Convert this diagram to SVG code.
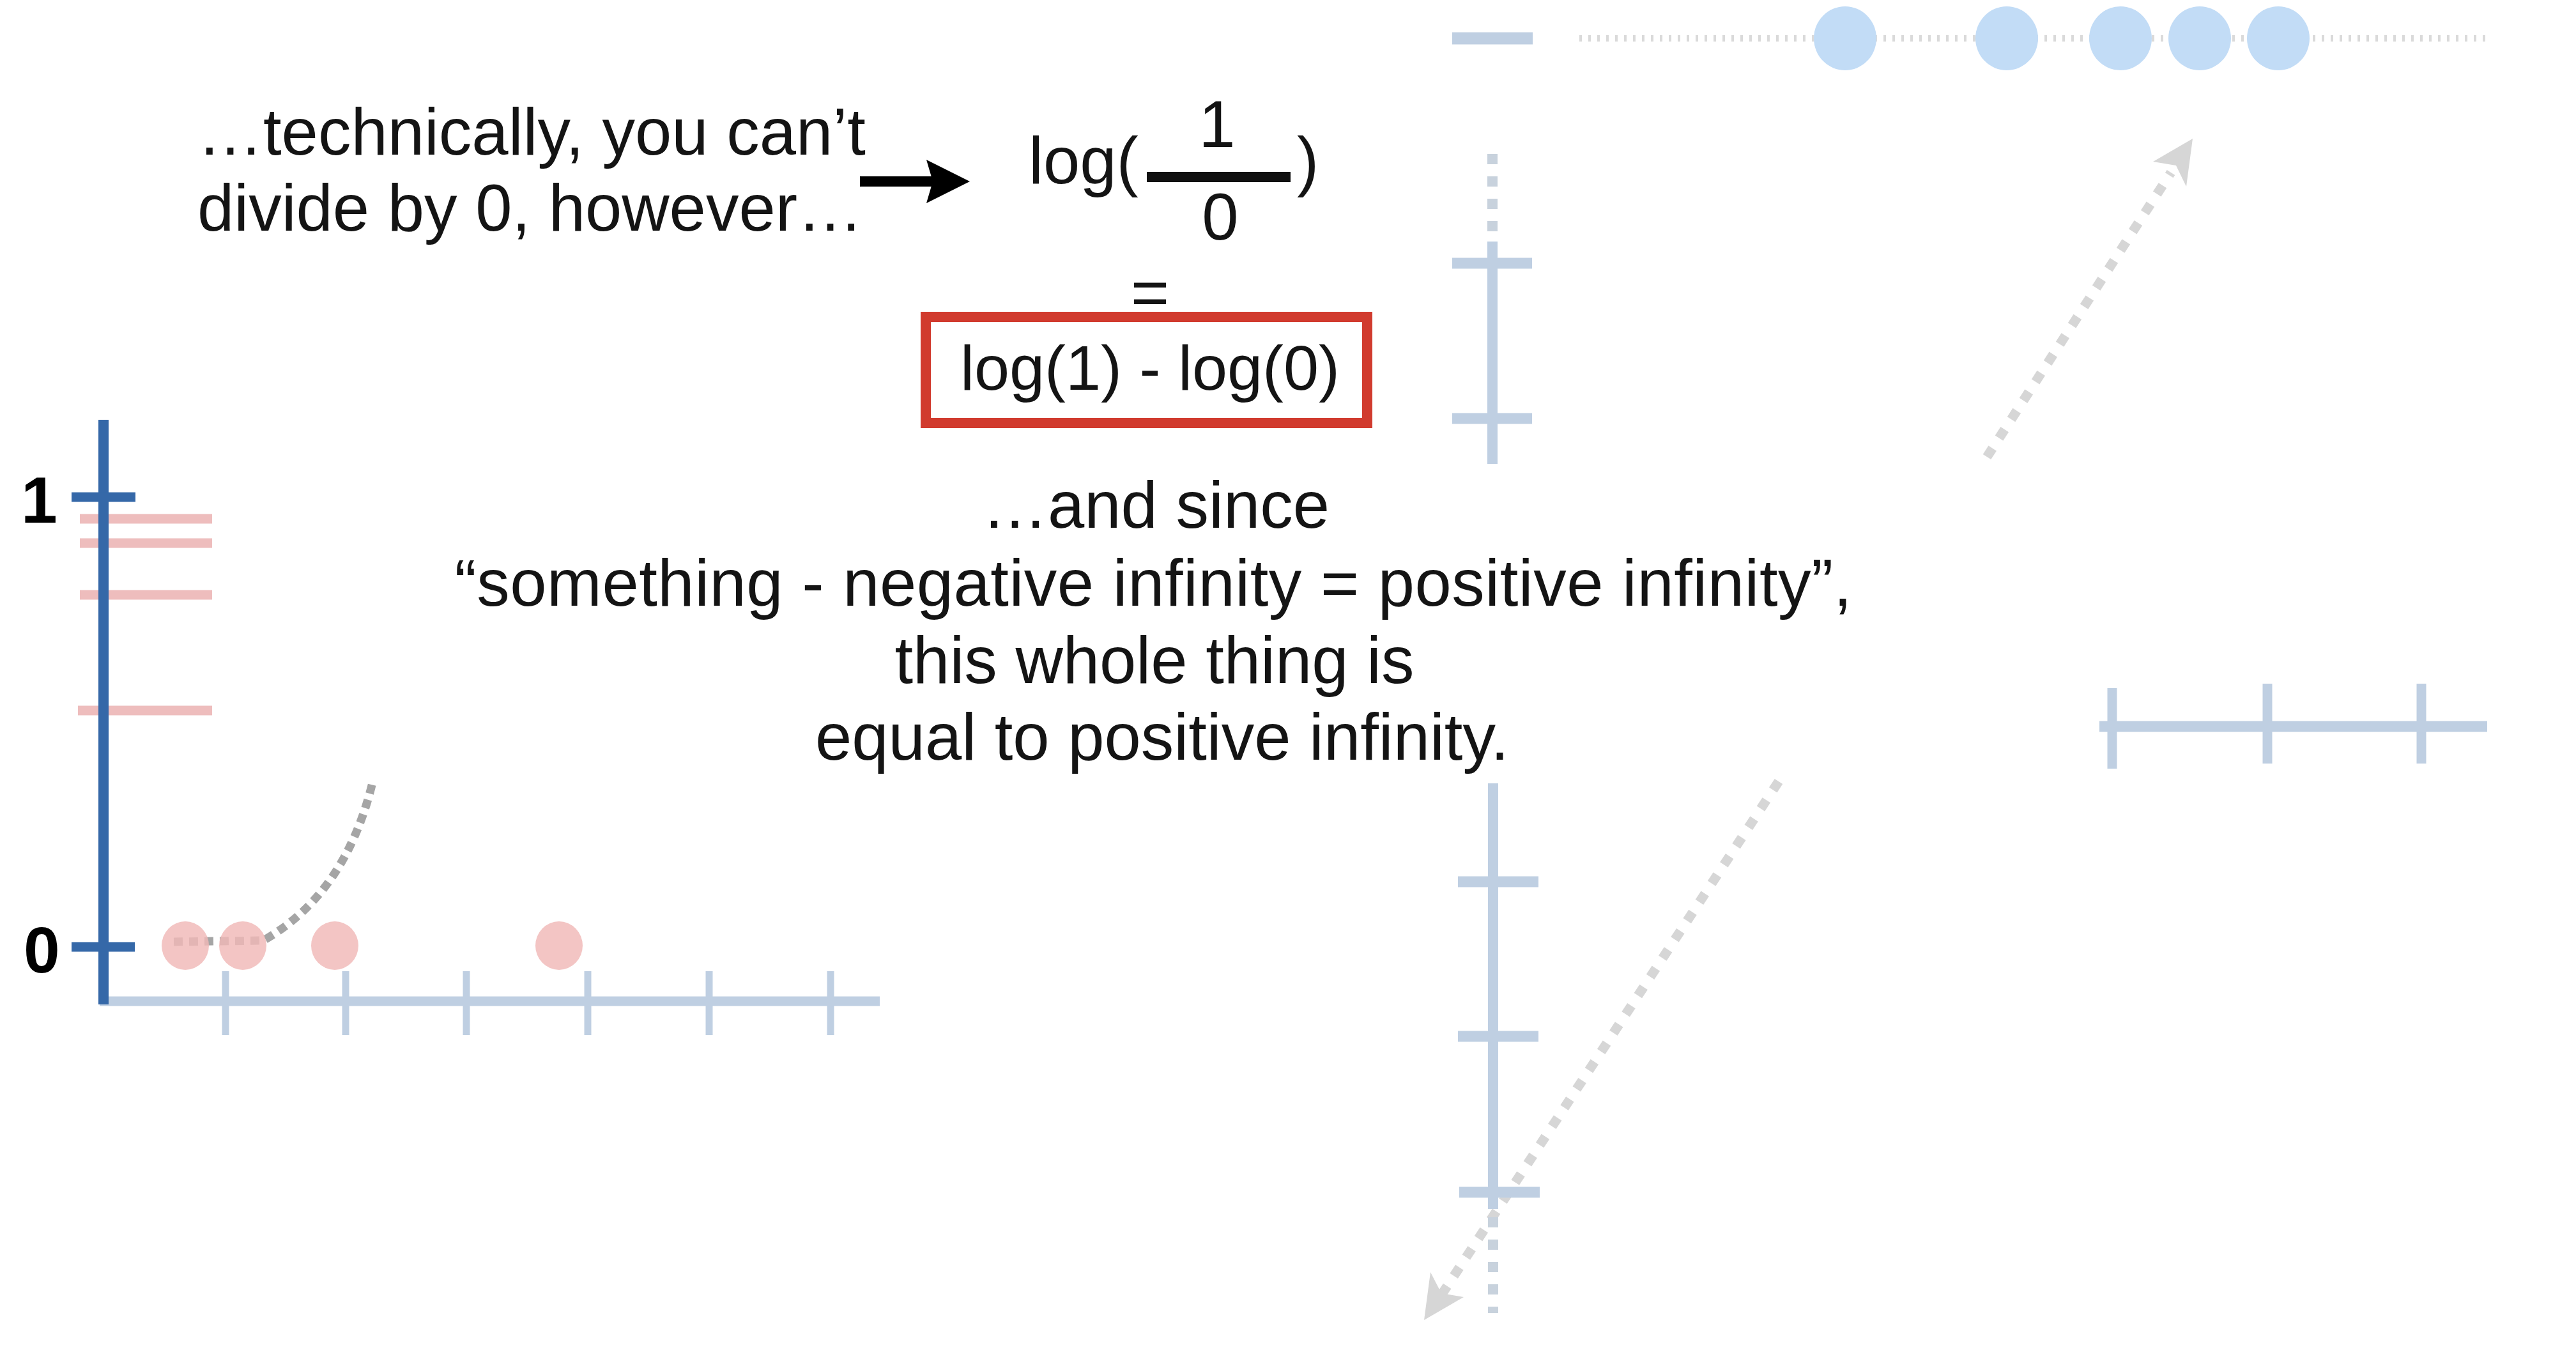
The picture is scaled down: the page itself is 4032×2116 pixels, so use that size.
<svg xmlns="http://www.w3.org/2000/svg" width="4032" height="2116" viewBox="0 0 4032 2116">
  <style>
    .t { font-family: "Liberation Sans", Arial, Helvetica, sans-serif; font-size: 103px; fill: #141414; }
    .lbl { font-family: "Liberation Sans", Arial, Helvetica, sans-serif; font-size: 102px; font-weight: bold; fill: #000; }
    .ax { stroke: #BFCFE2; fill: none; }
    .blue { stroke: #3568A8; fill: none; }
    .pinkline { stroke: #EEBDBD; stroke-width: 15; }
    .pdot { fill: #F0B8B7; fill-opacity: 0.82; }
    .bdot { fill: #C2DCF6; }
    .dots { stroke: #D6D6D6; stroke-width: 15; stroke-dasharray: 16 19; fill: none; }
    .ghead { fill: #D6D6D6; }
  </style>
  <rect width="4032" height="2116" fill="#ffffff"/>

  <g id="intro-text">
    <text class="t" x="309" y="242">…technically, you can’t</text>
    <text class="t" x="309" y="361">divide by 0, however…</text>
  </g>

  <g id="fraction">
    <text class="t" x="1610" y="287">log(</text>
    <text class="t" x="1905" y="230" text-anchor="middle">1</text>
    <rect x="1795" y="269" width="225" height="16" fill="#111"/>
    <text class="t" x="1910" y="375" text-anchor="middle">0</text>
    <text class="t" x="2030" y="287">)</text>
  </g>

  <g id="equals">
    <text class="t" x="1800" y="493" text-anchor="middle">=</text>
  </g>

  <g id="boxed-expression">
    <rect x="1449" y="496" width="691" height="166" fill="none" stroke="#D13B2E" stroke-width="16"/>
    <text class="t" x="1800" y="610" text-anchor="middle" style="font-size:99px">log(1) - log(0)</text>
  </g>

  <g id="explanation">
    <text class="t" x="1809" y="826" text-anchor="middle">…and since</text>
    <text class="t" x="1805" y="948" text-anchor="middle" textLength="2187" lengthAdjust="spacing">“something - negative infinity = positive infinity”,</text>
    <text class="t" x="1807" y="1069" text-anchor="middle">this whole thing is</text>
    <text class="t" x="1819" y="1189" text-anchor="middle">equal to positive infinity.</text>
  </g>

  <g id="left-chart">
    <line class="ax" x1="156" y1="1567" x2="1377" y2="1567" stroke-width="15"/>
    <g class="ax" stroke-width="11">
      <line x1="353" y1="1520" x2="353" y2="1620"/>
      <line x1="541" y1="1520" x2="541" y2="1620"/>
      <line x1="730" y1="1520" x2="730" y2="1620"/>
      <line x1="920" y1="1520" x2="920" y2="1620"/>
      <line x1="1110" y1="1520" x2="1110" y2="1620"/>
      <line x1="1300" y1="1520" x2="1300" y2="1620"/>
    </g>
    <line class="pinkline" x1="125" y1="812" x2="332" y2="812"/>
    <line class="pinkline" x1="125" y1="850" x2="332" y2="850"/>
    <line class="pinkline" x1="125" y1="931" x2="332" y2="931"/>
    <line class="pinkline" x1="122" y1="1112" x2="332" y2="1112"/>
    <line class="blue" x1="162" y1="657" x2="162" y2="1572" stroke-width="16"/>
    <line class="blue" x1="112" y1="778" x2="212" y2="778" stroke-width="15"/>
    <line class="blue" x1="112" y1="1482" x2="211" y2="1482" stroke-width="15"/>
    <text class="lbl" x="33" y="818">1</text>
    <text class="lbl" x="37" y="1522">0</text>
  </g>

  <g id="connectors">
    <line x1="1346" y1="284" x2="1462" y2="284" stroke="#000" stroke-width="16"/>
    <polygon points="1450,250 1518,284 1450,318 1460,284" fill="#000"/>
    <path d="M 272 1474 L 412 1472 Q 540 1400 583 1225" fill="none" stroke="#A5A5A5" stroke-width="13" stroke-dasharray="14 10"/>
    <line class="dots" x1="3110" y1="715" x2="3398" y2="270"/>
    <polygon class="ghead" points="3432,217 3422,292 3406,259 3370,253"/>
    <line class="dots" x1="2784" y1="1223" x2="2250" y2="2036"/>
    <polygon class="ghead" points="2229,2066 2239,1991 2256,2024 2291,2030"/>
  </g>

  <g id="left-dots">
    <ellipse class="pdot" cx="290" cy="1480" rx="37" ry="38"/>
    <ellipse class="pdot" cx="380" cy="1480" rx="37" ry="38"/>
    <ellipse class="pdot" cx="524" cy="1480" rx="37" ry="38"/>
    <ellipse class="pdot" cx="875" cy="1480" rx="37" ry="38"/>
  </g>

  <g id="top-strip">
    <line class="ax" x1="2273" y1="60" x2="2399" y2="60" stroke-width="19"/>
    <line x1="2472" y1="60" x2="3893" y2="60" stroke="#DADADA" stroke-width="10" stroke-dasharray="4 10"/>
    <ellipse class="bdot" cx="2888" cy="60" rx="49" ry="50"/>
    <ellipse class="bdot" cx="3141" cy="60" rx="49" ry="50"/>
    <ellipse class="bdot" cx="3319" cy="60" rx="49" ry="50"/>
    <ellipse class="bdot" cx="3443" cy="60" rx="49" ry="50"/>
    <ellipse class="bdot" cx="3566" cy="60" rx="49" ry="50"/>
  </g>

  <g id="upper-axis">
    <line x1="2336" y1="241" x2="2336" y2="365" stroke="#C8D2DD" stroke-width="16" stroke-dasharray="16 19"/>
    <line class="ax" x1="2336" y1="378" x2="2336" y2="726" stroke-width="16"/>
    <line class="ax" x1="2273" y1="412" x2="2398" y2="412" stroke-width="17"/>
    <line class="ax" x1="2273" y1="655" x2="2398" y2="655" stroke-width="17"/>
  </g>

  <g id="right-axis">
    <line class="ax" x1="3286" y1="1137" x2="3893" y2="1137" stroke-width="17"/>
    <line class="ax" x1="3306" y1="1077" x2="3306" y2="1203" stroke-width="15"/>
    <line class="ax" x1="3549" y1="1070" x2="3549" y2="1195" stroke-width="15"/>
    <line class="ax" x1="3790" y1="1070" x2="3790" y2="1195" stroke-width="15"/>
  </g>

  <g id="lower-axis">
    <line class="ax" x1="2337" y1="1226" x2="2337" y2="1892" stroke-width="16"/>
    <line x1="2337" y1="1905" x2="2337" y2="2055" stroke="#C8D2DD" stroke-width="16" stroke-dasharray="16 19"/>
    <line class="ax" x1="2282" y1="1380" x2="2408" y2="1380" stroke-width="17"/>
    <line class="ax" x1="2282" y1="1622" x2="2408" y2="1622" stroke-width="17"/>
    <line class="ax" x1="2284" y1="1866" x2="2410" y2="1866" stroke-width="17"/>
  </g>
</svg>
